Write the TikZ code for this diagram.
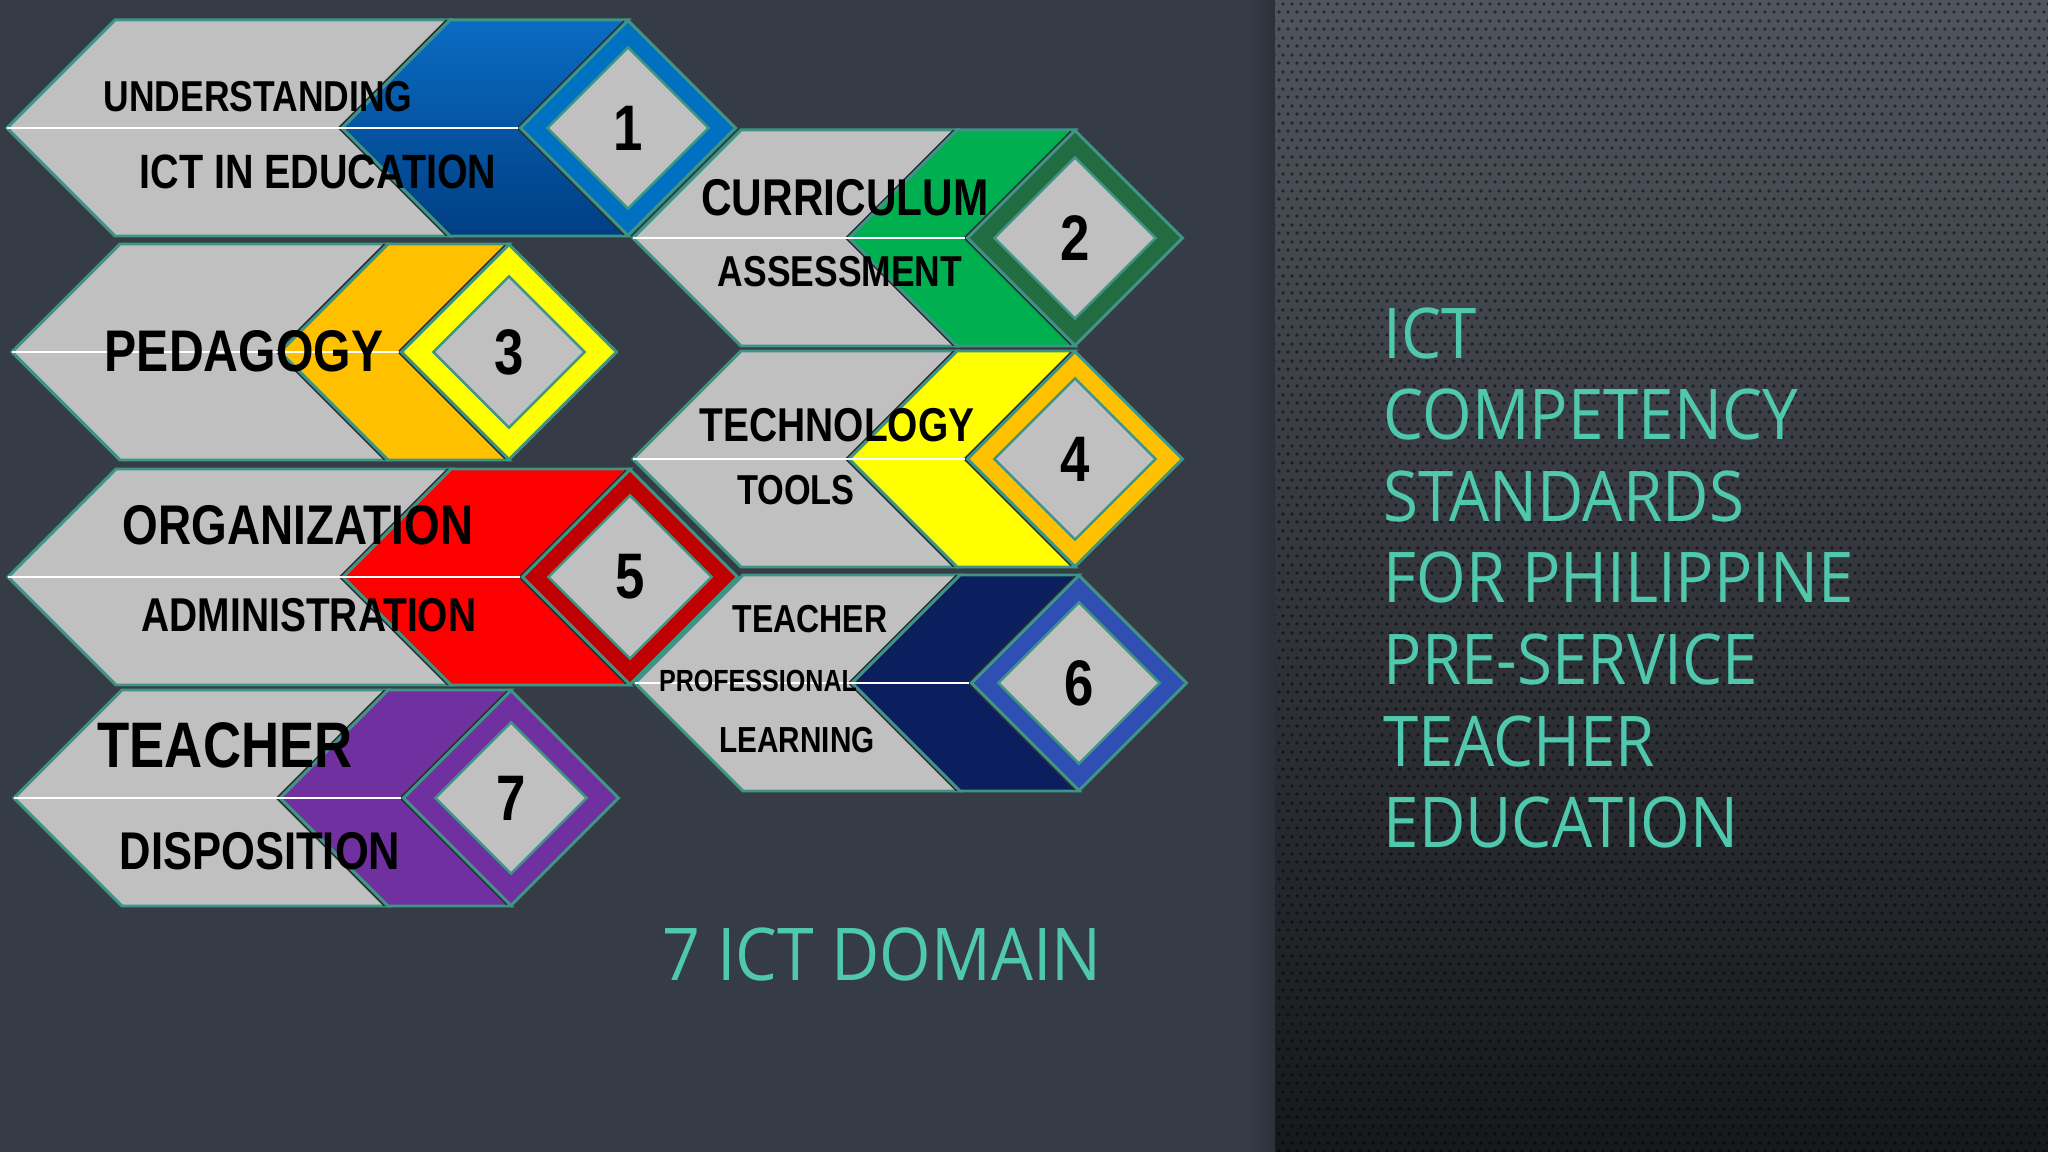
\documentclass[tikz,border=0pt]{standalone}
\usepackage{fontspec}
\newfontfamily\domfont[FakeStretch=0.82]{Liberation Sans}
\newfontfamily\headfont[FakeStretch=0.91]{Open Sans}
\usetikzlibrary{shapes.geometric,patterns}

\definecolor{slate}{HTML}{363C46}
\definecolor{paneltop}{HTML}{50555D}
\definecolor{panelbot}{HTML}{16181B}
\definecolor{edgeteal}{HTML}{3F9585}
\definecolor{shadow}{HTML}{2A2E34}
\definecolor{facegray}{HTML}{C0C0C0}
\definecolor{headteal}{HTML}{50C8AD}
\definecolor{bluetop}{HTML}{0A6CC2}
\definecolor{bluebot}{HTML}{003E84}
\definecolor{blueedge}{HTML}{0070C0}
\definecolor{greenband}{HTML}{00B050}
\definecolor{greenedge}{HTML}{236B40}
\definecolor{orangeband}{HTML}{FFC000}
\definecolor{yellowband}{HTML}{FFFF00}
\definecolor{redband}{HTML}{FF0000}
\definecolor{rededge}{HTML}{C00000}
\definecolor{navyband}{HTML}{0B1F5E}
\definecolor{navyedge}{HTML}{2F4FB3}
\definecolor{purpleband}{HTML}{7030A0}

\pgfdeclarepatternformonly{paneldots}{\pgfqpoint{0pt}{0pt}}{\pgfqpoint{2.42pt}{4.84pt}}{\pgfqpoint{2.42pt}{4.84pt}}{
  \pgfpathcircle{\pgfqpoint{0.6pt}{0.6pt}}{0.55pt}
  \pgfpathcircle{\pgfqpoint{1.81pt}{3.02pt}}{0.55pt}
  \pgfusepath{fill}}

\tikzset{
  grayface/.style={fill=facegray, draw=edgeteal, line width=0.85pt},
  bandface/.style={fill=#1, draw=edgeteal, line width=0.85pt,
    preaction={fill=shadow, transform canvas={xshift=-0.45mm}}},
  ring/.style={diamond, aspect=1, minimum width=2.16cm, minimum height=2.16cm,
    inner sep=0pt, fill=#1, draw=edgeteal, line width=0.85pt,
    preaction={fill=shadow, transform canvas={xshift=-0.45mm}}},
  core/.style={diamond, aspect=1, minimum width=#1, minimum height=#1,
    inner sep=0pt, fill=facegray, draw=edgeteal, line width=0.7pt,
    font=\domfont\bfseries\fontsize{18.3}{20}\selectfont},
  midline/.style={draw=white, line width=0.5pt},
  domlabel/.style={inner sep=0pt, text=black,
    font=\domfont\bfseries\fontsize{#1}{#1}\selectfont},
  headtext/.style={inner sep=0pt, text=headteal}
}

\begin{document}
\begin{tikzpicture}[x=0.01cm,y=-0.01cm]
\useasboundingbox (0,0) rectangle (2048,1152);
\fill[slate] (0,0) rectangle (1275,1152);
\shade[left color=slate, right color=slate!82!black] (1245,0) rectangle (1275,1152);
\shade[top color=paneltop, bottom color=panelbot] (1275,0) rectangle (2048,1152);
\fill[pattern=paneldots, pattern color=black, fill opacity=0.5] (1275,0) rectangle (2048,1152);

\draw[grayface] (7,128) -- (115,20) -- (450,20) -- (342,128) -- (450,236) -- (115,236) -- cycle;
\draw[bandface=bluetop, top color=bluetop, bottom color=bluebot] (450,20) -- (628,20) -- (520,128) -- (628,236) -- (450,236) -- (342,128) -- cycle;
\coordinate (t1) at (7,128);
\node[ring=blueedge] (d1) at (628,128) {};
\draw[midline] (t1) -- (d1.west);
\node[core=1.62cm] (n1) at (d1) {1};

\draw[grayface] (12,352) -- (120,244) -- (388,244) -- (280,352) -- (388,460) -- (120,460) -- cycle;
\draw[bandface=orangeband] (388,244) -- (509,244) -- (401,352) -- (509,460) -- (388,460) -- (280,352) -- cycle;
\coordinate (t3) at (12,352);
\node[ring=yellowband] (d3) at (509,352) {};
\draw[midline] (t3) -- (d3.west);
\node[core=1.52cm] (n3) at (d3) {3};

\draw[grayface] (8,577) -- (116,469) -- (451,469) -- (343,577) -- (451,685) -- (116,685) -- cycle;
\draw[bandface=redband] (451,469) -- (630,469) -- (522,577) -- (630,685) -- (451,685) -- (343,577) -- cycle;
\coordinate (t5) at (8,577);
\node[ring=rededge] (d5) at (630,577) {};
\draw[midline] (t5) -- (d5.west);
\node[core=1.64cm] (n5) at (d5) {5};

\draw[grayface] (14,798) -- (122,690) -- (388,690) -- (280,798) -- (388,906) -- (122,906) -- cycle;
\draw[bandface=purpleband] (388,690) -- (511,690) -- (403,798) -- (511,906) -- (388,906) -- (280,798) -- cycle;
\coordinate (t7) at (14,798);
\node[ring=purpleband] (d7) at (511,798) {};
\draw[midline] (t7) -- (d7.west);
\node[core=1.52cm] (n7) at (d7) {7};

\draw[grayface] (633,238) -- (741,130) -- (957,130) -- (849,238) -- (957,346) -- (741,346) -- cycle;
\draw[bandface=greenband] (957,130) -- (1075,130) -- (967,238) -- (1075,346) -- (957,346) -- (849,238) -- cycle;
\coordinate (t2) at (633,238);
\node[ring=greenedge] (d2) at (1075,238) {};
\draw[midline] (t2) -- (d2.west);
\node[core=1.62cm] (n2) at (d2) {2};

\draw[grayface] (633,459) -- (741,351) -- (957,351) -- (849,459) -- (957,567) -- (741,567) -- cycle;
\draw[bandface=yellowband] (957,351) -- (1075,351) -- (967,459) -- (1075,567) -- (957,567) -- (849,459) -- cycle;
\coordinate (t4) at (633,459);
\node[ring=orangeband] (d4) at (1075,459) {};
\draw[midline] (t4) -- (d4.west);
\node[core=1.62cm] (n4) at (d4) {4};

\draw[grayface] (635,683) -- (743,575) -- (960,575) -- (852,683) -- (960,791) -- (743,791) -- cycle;
\draw[bandface=navyband] (960,575) -- (1079,575) -- (971,683) -- (1079,791) -- (960,791) -- (852,683) -- cycle;
\coordinate (t6) at (635,683);
\node[ring=navyedge] (d6) at (1079,683) {};
\draw[midline] (t6) -- (d6.west);
\node[core=1.62cm] (n6) at (d6) {6};

\node[domlabel=12.3] (l1a) at (258,97) {UNDERSTANDING};
\node[domlabel=13.7] (l1b) at (318,172) {ICT IN EDUCATION};
\node[domlabel=16.7] (l3) at (244,351) {PEDAGOGY};
\node[domlabel=15.9] (l5a) at (298,525) {ORGANIZATION};
\node[domlabel=13.5] (l5b) at (309,615) {ADMINISTRATION};
\node[domlabel=18.3] (l7a) at (225,745) {TEACHER};
\node[domlabel=15.1] (l7b) at (260,851) {DISPOSITION};
\node[domlabel=14.7] (l2a) at (845,198) {CURRICULUM};
\node[domlabel=12.3] (l2b) at (840,272) {ASSESSMENT};
\node[domlabel=13.5] (l4a) at (837,425) {TECHNOLOGY};
\node[domlabel=11.9] (l4b) at (796,490) {TOOLS};
\node[domlabel=11.1] (l6a) at (810,619) {TEACHER};
\node[domlabel=8.7] (l6b) at (758,681) {PROFESSIONAL};
\node[domlabel=10.3] (l6c) at (797,740) {LEARNING};

\node[headtext, font=\headfont\fontsize{20.7}{24}\selectfont] (domains) at (882,954) {7 ICT DOMAIN};
\node[headtext, anchor=west, align=left, font=\headfont\fontsize{19.9}{23.2}\selectfont] (title) at (1383,578) {ICT\\COMPETENCY\\STANDARDS\\FOR PHILIPPINE\\PRE-SERVICE\\TEACHER\\EDUCATION};
\end{tikzpicture}
\end{document}
